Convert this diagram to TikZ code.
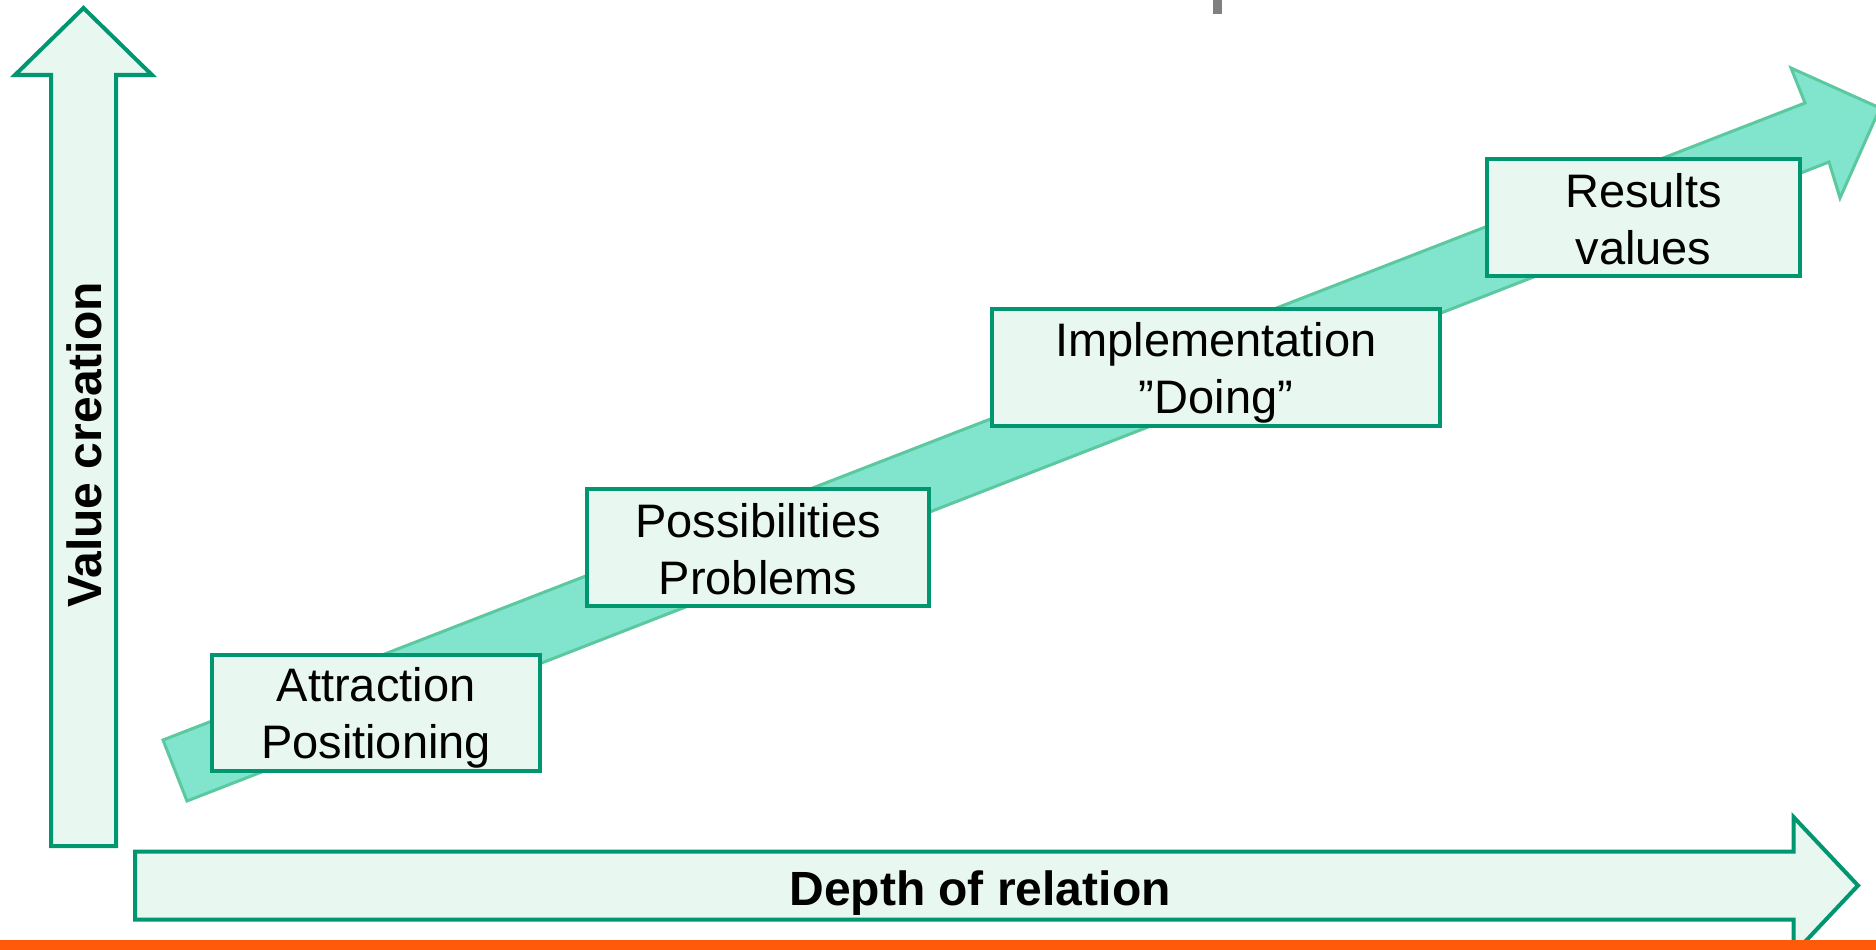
\documentclass[tikz,border=0pt]{standalone}
\usepackage{fontspec}
\setmainfont{Liberation Sans}
\usetikzlibrary{calc}

\definecolor{frame}{RGB}{0,150,112}
\definecolor{pale}{RGB}{232,247,240}
\definecolor{band}{RGB}{128,229,204}
\definecolor{bandline}{RGB}{92,200,160}
\definecolor{accent}{RGB}{255,90,10}
\definecolor{tick}{RGB}{128,128,128}

% fixed line height for the stage labels, so every box sets its lines alike
\newcommand\stagestrut{\rule[-8pt]{0pt}{52pt}}

\tikzset{
  axisarrow/.style={draw=frame, fill=pale, line width=4pt, line join=miter},
  bandarrow/.style={draw=bandline, fill=band, line width=3pt, line join=miter},
  stage/.style={draw=frame, fill=pale, line width=4pt, inner sep=0pt,
    align=center, font=\fontsize{47}{57}\selectfont},
  axislabel/.style={font=\fontsize{48}{58}\selectfont\bfseries, inner sep=0pt},
}

\begin{document}
\begin{tikzpicture}[x=1pt,y=-1pt]
\useasboundingbox (0,0) rectangle (1876,950);
\clip (0,0) rectangle (1876,950);

% small grey tick at the top edge
\fill[tick] (1213,0) rectangle (1222,14);

% rising band arrow behind the stages
\draw[bandarrow] (163,740) -- (1805,103) -- (1791,68) -- (1880,108)
  -- (1840,198) -- (1829,162) -- (187,801) -- cycle;

% vertical axis arrow
\draw[axisarrow] (51,846) -- (51,75) -- (15,75) -- (83.5,8) -- (152,75)
  -- (116,75) -- (116,846) -- cycle;
\node[axislabel, rotate=90] (vlabel) at (84,445) {Value creation};

% horizontal axis arrow
\draw[axisarrow] (135,851.5) -- (1793.5,851.5) -- (1793.5,817) -- (1858,885.5)
  -- (1793.5,954) -- (1793.5,919.5) -- (135,919.5) -- cycle;
\node[axislabel, anchor=base] (hlabel) at (980,905) {Depth of relation};

% stages
\node[stage, minimum width=328pt, minimum height=116pt] (s1) at (376,713)
  {\stagestrut Attraction\\\stagestrut Positioning};
\node[stage, minimum width=342pt, minimum height=117pt] (s2) at (758,547.5)
  {\stagestrut Possibilities\\\stagestrut Problems};
\node[stage, minimum width=448pt, minimum height=117pt] (s3) at (1216,367.5)
  {\stagestrut Implementation\\\stagestrut ”Doing”};
\node[stage, minimum width=313pt, minimum height=117pt] (s4) at (1643.5,217.5)
  {\stagestrut Results\\\stagestrut values};

% bottom rule
\fill[accent] (0,940) rectangle (1876,950);
\end{tikzpicture}
\end{document}
